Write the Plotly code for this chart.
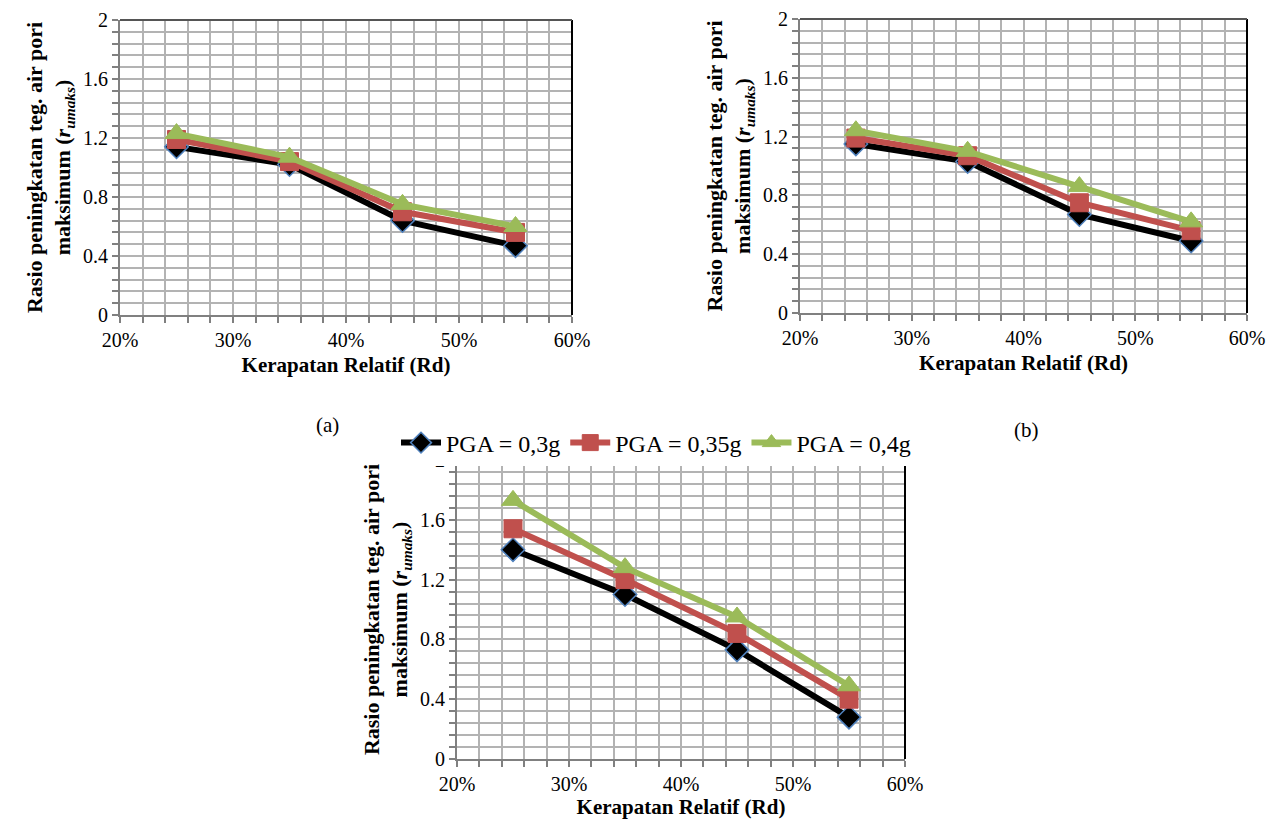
import plotly.graph_objects as go

rd = [0.25, 0.35, 0.45, 0.55]
series_names = ["PGA = 0,3g", "PGA = 0,35g", "PGA = 0,4g"]

a_03 = [1.14, 1.02, 0.64, 0.47]
a_035 = [1.19, 1.04, 0.70, 0.56]
a_04 = [1.23, 1.07, 0.75, 0.60]

b_03 = [1.15, 1.03, 0.67, 0.49]
b_035 = [1.19, 1.07, 0.75, 0.56]
b_04 = [1.24, 1.10, 0.86, 0.62]

c_03 = [1.40, 1.10, 0.73, 0.28]
c_035 = [1.54, 1.20, 0.84, 0.40]
c_04 = [1.73, 1.28, 0.95, 0.49]

panel_labels = ["(a)", "(b)"]
x_title = "<b>Kerapatan Relatif (Rd)</b>"
y_title = "<b>Rasio peningkatan teg. air pori<br>maksimum (<i>r<sub>umaks</sub></i>)</b>"

FONT = "Liberation Serif"
colors = ["#000000", "#c0504d", "#9bbb59"]
marker_styles = [
    dict(symbol="diamond", size=18, color="#000000", line=dict(color="#4f81bd", width=1.5)),
    dict(symbol="square", size=18, color="#c0504d", line=dict(color="#c0504d", width=1)),
    dict(symbol="triangle-up", size=20, color="#9bbb59", line=dict(color="#9bbb59", width=1)),
]

fig = go.Figure()

panels = [
    ("x", "y", [a_03, a_035, a_04]),
    ("x2", "y2", [b_03, b_035, b_04]),
    ("x3", "y3", [c_03, c_035, c_04]),
]
for pi, (xa, ya, data) in enumerate(panels):
    for si, vals in enumerate(data):
        fig.add_trace(go.Scatter(
            x=rd, y=vals, mode="lines+markers", name=series_names[si],
            line=dict(color=colors[si], width=6),
            marker=marker_styles[si],
            xaxis=xa, yaxis=ya, showlegend=(pi == 2),
        ))

domains = {
    "": ([120 / 1282, 572 / 1282], [1 - 315 / 819, 1 - 20 / 819]),
    "2": ([800 / 1282, 1247 / 1282], [1 - 313 / 819, 1 - 19 / 819]),
    "3": ([457 / 1282, 905 / 1282], [1 - 759 / 819, 1 - 460 / 819]),
}

grid_col = "#b3b3b3"
axis_col = "#808080"
for k, (dx, dy) in domains.items():
    fig.update_layout(**{
        "xaxis" + k: dict(
            domain=dx, anchor="y" + k, range=[0.2, 0.6], dtick=0.1, tick0=0.2,
            tickformat=".0%", showgrid=True, gridcolor=grid_col, gridwidth=2,
            showline=True, linecolor=axis_col, linewidth=2, mirror=False,
            ticks="outside", ticklen=6, tickcolor=axis_col, tickwidth=1.5,
            minor=dict(dtick=0.02, tick0=0.2, showgrid=True, gridcolor=grid_col, gridwidth=2,
                       ticks="outside", ticklen=6, tickcolor=axis_col),
            tickfont=dict(family=FONT, size=20, color="#000"),
            title=dict(text=x_title, font=dict(family=FONT, size=21, color="#000"), standoff=7),
            zeroline=False, fixedrange=True, automargin=False,
        ),
        "yaxis" + k: dict(
            domain=dy, anchor="x" + k, range=[0, 2], dtick=0.4, tick0=0,
            showgrid=True, gridcolor=grid_col, gridwidth=2,
            showline=True, linecolor=axis_col, linewidth=2, mirror=False,
            ticks="outside", ticklen=6, tickcolor=axis_col, tickwidth=1.5,
            minor=dict(dtick=0.08, tick0=0, showgrid=True, gridcolor=grid_col, gridwidth=2,
                       ticks="outside", ticklen=6, tickcolor=axis_col),
            tickfont=dict(family=FONT, size=20, color="#000"),
            title=dict(text=y_title, font=dict(family=FONT, size=22, color="#000"), standoff=6),
            zeroline=False, fixedrange=True, automargin=False,
        ),
    })
    xr = "x" + k + " domain"
    yr = "y" + k + " domain"
    fig.add_shape(type="line", xref=xr, yref=yr, x0=1, x1=1, y0=0, y1=1,
                  line=dict(color="#000000", width=2))
    fig.add_shape(type="line", xref=xr, yref=yr, x0=0, x1=1, y0=1, y1=1,
                  line=dict(color="#555555", width=2))

fig.add_annotation(text=panel_labels[0], x=327 / 1282, y=1 - 425 / 819, xref="paper", yref="paper",
                   xanchor="center", yanchor="middle",
                   showarrow=False, font=dict(family=FONT, size=21, color="#000"))
fig.add_annotation(text=panel_labels[1], x=1026 / 1282, y=1 - 430 / 819, xref="paper", yref="paper",
                   xanchor="center", yanchor="middle",
                   showarrow=False, font=dict(family=FONT, size=21, color="#000"))

fig.update_layout(
    width=1282, height=819, autosize=False,
    margin=dict(l=0, r=0, t=0, b=0, pad=0, autoexpand=False),
    paper_bgcolor="white", plot_bgcolor="white",
    showlegend=True,
    legend=dict(orientation="h", x=656 / 1282, xanchor="center", y=1 - 443 / 819, yanchor="middle",
                bgcolor="rgba(255,255,255,1)", font=dict(family=FONT, size=24, color="#000"),
                itemwidth=40, tracegroupgap=0, itemclick=False, itemdoubleclick=False),
)

fig.write_html("out.html")
